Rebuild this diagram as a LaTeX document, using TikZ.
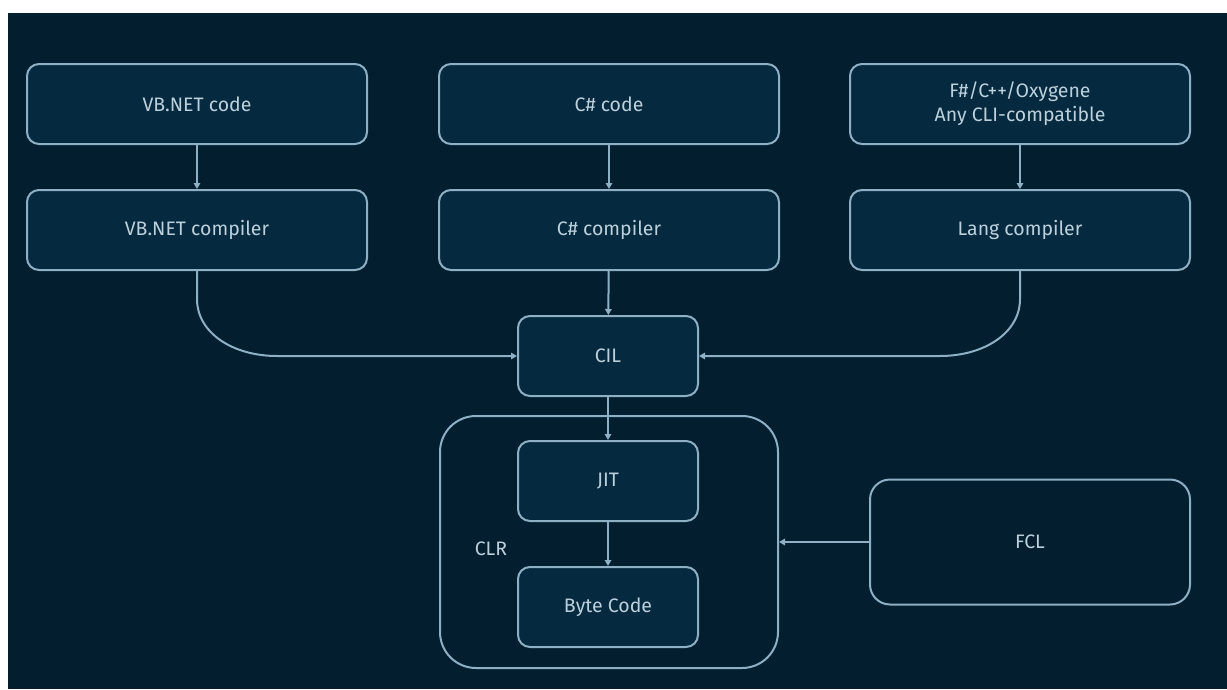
\documentclass[tikz,border=0pt]{standalone}
\usepackage{fontspec}
\setmainfont{Fira Sans}
\usetikzlibrary{arrows.meta,calc}
\definecolor{bgnavy}{HTML}{021E2F}
\definecolor{boxfill}{HTML}{05293F}
\definecolor{edge}{HTML}{8DB0C4}
\definecolor{label}{HTML}{BCD0DC}
\tikzset{
  textstyle/.style={text=label, font=\fontsize{19.5}{24}\selectfont},
  block/.style={draw=edge, line width=2pt, fill=boxfill, rounded corners=12pt,
    textstyle, align=center,
    minimum width=340pt, minimum height=80pt, inner sep=0pt},
  smallblock/.style={block, minimum width=180pt},
  conn/.style={draw=edge, line width=2pt,
    -{Triangle[length=6pt,width=6.5pt]}}
}
\begin{document}
\begin{tikzpicture}[x=1pt,y=-1pt]
  % canvas: white strip at top and left, navy field
  \fill[white] (0,0) rectangle (1227,689);
  \fill[bgnavy] (8,13) rectangle (1227,689);
  \useasboundingbox (0,0) rectangle (1227,689);

  % source code row
  \node[block] (vbcode) at (197,104) {VB.NET code};
  \node[block] (cscode) at (609,104) {C\# code};
  \node[block] (fscode) at (1020,104) {F\#/C++/Oxygene\\Any CLI-compatible};

  % compiler row
  \node[block] (vbc) at (197,230) {VB.NET compiler};
  \node[block] (csc) at (609,230) {C\# compiler};
  \node[block] (langc) at (1020,230) {Lang compiler};

  % intermediate language
  \node[smallblock] (cil) at (608,356) {CIL};

  % runtime
  \node[block, fill=bgnavy, rounded corners=36pt, minimum width=338pt,
        minimum height=252pt] (clr) at (609,542) {};
  \node[textstyle] (clrlabel) at (491,549) {CLR};
  \node[smallblock] (jit) at (608,481) {JIT};
  \node[smallblock] (byte) at (608,607) {Byte Code};

  % class library
  \node[block, fill=bgnavy, rounded corners=20pt, minimum width=320pt,
        minimum height=125pt] (fcl) at (1030,542) {FCL};

  % connectors
  \draw[conn] (vbcode) -- (vbc);
  \draw[conn] (cscode) -- (csc);
  \draw[conn] (fscode) -- (langc);
  \draw[conn] (csc) -- (cil);
  \draw[conn] (vbc.south) -- ++(0,28)
     .. controls +(0,34) and +(-44,0) .. ($(vbc.south |- cil.west)+(80,0)$)
     -- (cil.west);
  \draw[conn] (langc.south) -- ++(0,28)
     .. controls +(0,34) and +(44,0) .. ($(langc.south |- cil.east)+(-80,0)$)
     -- (cil.east);
  \draw[conn] (cil) -- (jit);
  \draw[conn] (jit) -- (byte);
  \draw[conn] (fcl.west) -- (fcl.west -| clr.east);
\end{tikzpicture}
\end{document}
